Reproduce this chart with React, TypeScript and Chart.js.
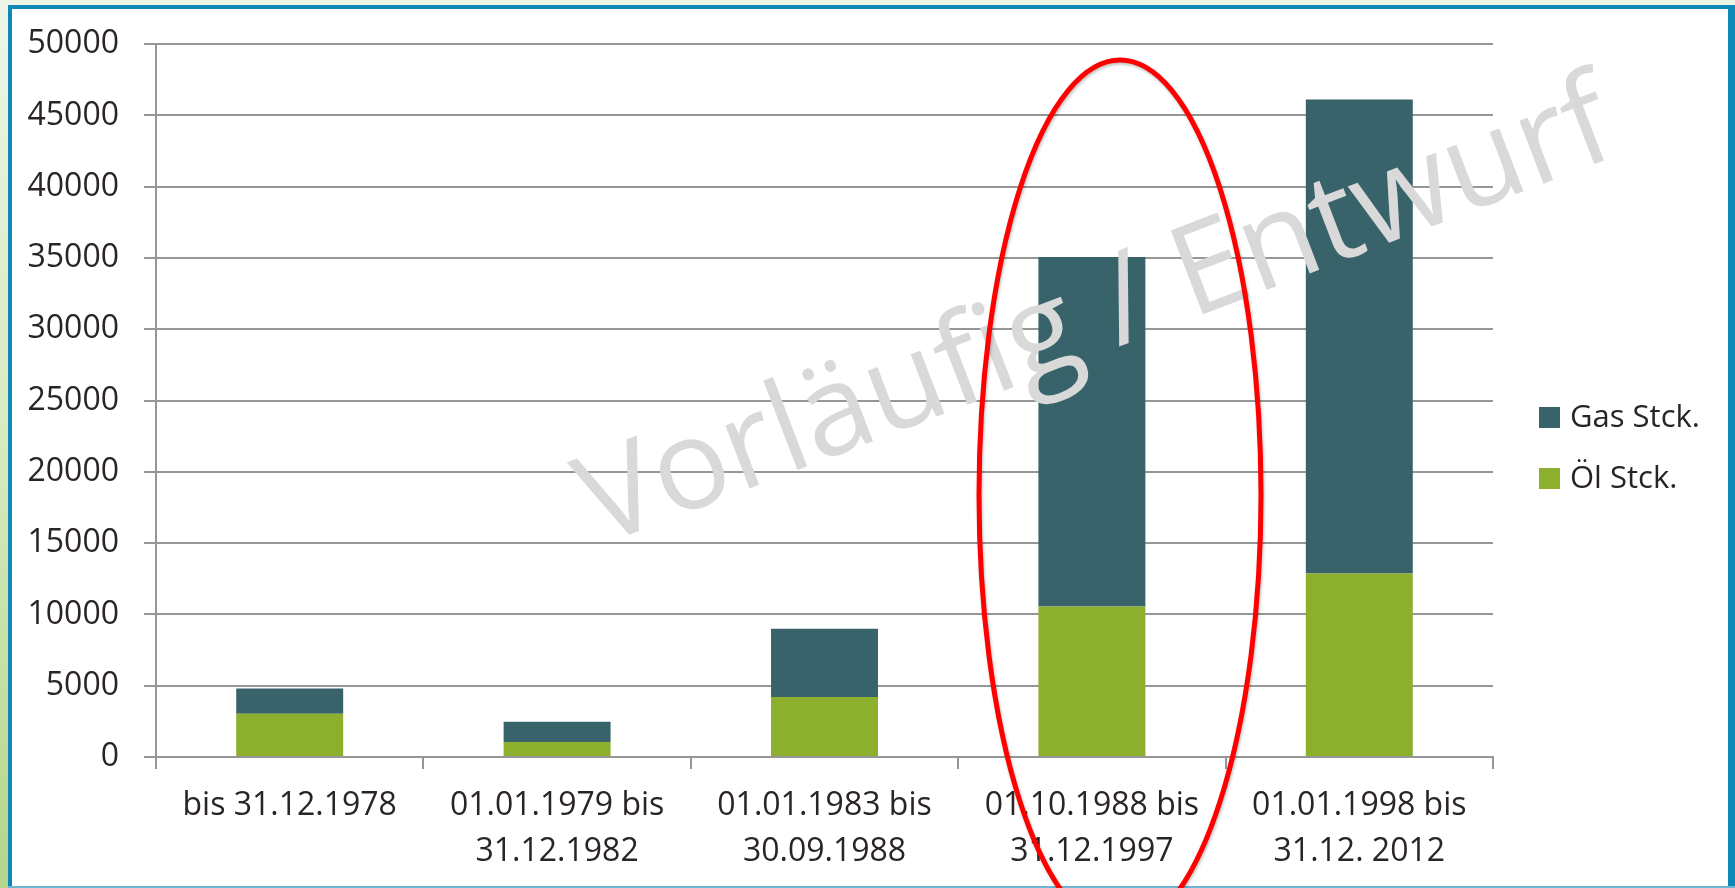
import React, { useEffect, useRef } from 'react';
import { Chart, registerables } from 'chart.js';

Chart.register(...registerables);

const categories: string[][] = [
  ['bis 31.12.1978'],
  ['01.01.1979 bis', '31.12.1982'],
  ['01.01.1983 bis', '30.09.1988'],
  ['01.10.1988 bis', '31.12.1997'],
  ['01.01.1998 bis', '31.12. 2012'],
];
const oilValues = [3030, 1050, 4200, 10550, 12880];
const gasValues = [1770, 1420, 4790, 24520, 33240];
const oilName = 'Öl Stck.';
const gasName = 'Gas Stck.';
const yMin = 0;
const yMax = 50000;
const yStep = 5000;
const watermarkText = 'Vorläufig / Entwurf';

const FONT = "'Open Sans', 'DejaVu Sans', sans-serif";
const TEXT = '#2a2426';
const GRID = '#969696';
const GAS = '#38636b';
const OIL = '#8caf2d';

const W = 1735;
const H = 888;

const backgroundPlugin = {
  id: 'slideBackground',
  beforeDraw(chart: any) {
    const ctx = chart.ctx as CanvasRenderingContext2D;
    ctx.save();
    const g = ctx.createLinearGradient(0, 0, 0, H);
    g.addColorStop(0, '#eef5e7');
    g.addColorStop(0.5, '#d7eabf');
    g.addColorStop(1, '#b4d58b');
    ctx.fillStyle = g;
    ctx.fillRect(0, 0, W, H);
    ctx.fillStyle = '#ffffff';
    ctx.fillRect(12, 9, 1716, 879);
    ctx.fillStyle = '#0e88b6';
    ctx.fillRect(8, 5, 4, H - 5);
    ctx.fillRect(8, 5, W - 8, 4);
    ctx.fillRect(1728, 5, 7, H - 5);
    ctx.fillStyle = '#6fb5d3';
    ctx.fillRect(8, 886, W - 8, 2);
    ctx.restore();
  },
};

const overlayPlugin = {
  id: 'overlay',
  afterDraw(chart: any) {
    const ctx = chart.ctx as CanvasRenderingContext2D;
    const area = chart.chartArea;

    // custom legend (reversed order, as in the reference)
    ctx.save();
    const ds = chart.data.datasets.slice().reverse();
    const legendX = area.right + 46;
    const legendY0 = 417.5;
    const legendGap = 61;
    ds.forEach((d: any, i: number) => {
      const cy = legendY0 + i * legendGap;
      ctx.fillStyle = d.backgroundColor;
      ctx.fillRect(legendX, cy - 10.5, 21, 21);
      ctx.fillStyle = TEXT;
      ctx.font = `31px ${FONT}`;
      ctx.textBaseline = 'middle';
      ctx.textAlign = 'left';
      ctx.fillText(d.label, legendX + 31, cy + 1);
    });
    ctx.restore();

    // watermark
    ctx.save();
    ctx.font = `100px ${FONT}`;
    const w100 = ctx.measureText(watermarkText).width;
    const size = (100 * 1095) / w100;
    ctx.font = `${size}px ${FONT}`;
    ctx.translate(1110, 350);
    ctx.rotate((-21 * Math.PI) / 180);
    ctx.fillStyle = '#d9d9d9';
    ctx.textAlign = 'center';
    ctx.textBaseline = 'alphabetic';
    ctx.fillText(watermarkText, 0, 0);
    ctx.restore();

    // red highlight ellipse
    ctx.save();
    ctx.shadowColor = 'rgba(0,0,0,0.25)';
    ctx.shadowBlur = 3;
    ctx.shadowOffsetX = 1;
    ctx.shadowOffsetY = 2;
    ctx.strokeStyle = '#ff0000';
    ctx.lineWidth = 5;
    ctx.beginPath();
    ctx.ellipse(1120, 495, 141, 435, 0, 0, Math.PI * 2);
    ctx.stroke();
    ctx.restore();
  },
};

export default function App() {
  const ref = useRef<HTMLCanvasElement | null>(null);

  useEffect(() => {
    if (!ref.current) return;
    const chart = new Chart(ref.current, {
      type: 'bar',
      data: {
        labels: categories,
        datasets: [
          {
            label: oilName,
            data: oilValues,
            backgroundColor: OIL,
            borderWidth: 0,
            barPercentage: 0.4,
            categoryPercentage: 1,
          },
          {
            label: gasName,
            data: gasValues,
            backgroundColor: GAS,
            borderWidth: 0,
            barPercentage: 0.4,
            categoryPercentage: 1,
          },
        ],
      },
      options: {
        animation: false,
        responsive: false,
        devicePixelRatio: 1,
        layout: { padding: { left: 0, top: 43, right: W - 1493, bottom: 0 } },
        plugins: {
          legend: { display: false },
          tooltip: { enabled: false },
        },
        scales: {
          x: {
            stacked: true,
            offset: true,
            grid: {
              offset: true,
              drawOnChartArea: false,
              drawTicks: true,
              tickLength: 12,
              color: GRID,
              lineWidth: 2,
            },
            border: { display: true, color: GRID, width: 2 },
            ticks: {
              color: TEXT,
              font: { family: FONT, size: 32, lineHeight: 1.44 },
              padding: 14,
              maxRotation: 0,
              autoSkip: false,
            },
            afterFit(scale: any) {
              scale.height = H - 757;
            },
          },
          y: {
            stacked: true,
            min: yMin,
            max: yMax,
            grid: {
              color: GRID,
              lineWidth: 2,
              drawTicks: true,
              tickLength: 12,
            },
            border: { display: true, color: GRID, width: 2 },
            ticks: {
              stepSize: yStep,
              color: TEXT,
              font: { family: FONT, size: 32 },
              padding: 25,
              callback: (v: any) => String(v),
            },
            afterFit(scale: any) {
              scale.width = 156;
            },
          },
        },
      },
      plugins: [backgroundPlugin, overlayPlugin],
    } as any);
    return () => chart.destroy();
  }, []);

  return (
    <div style={{ position: 'absolute', left: 0, top: 0, width: W, height: H, overflow: 'hidden' }}>
      <canvas ref={ref} width={W} height={H} style={{ display: 'block', width: W, height: H }} />
    </div>
  );
}
